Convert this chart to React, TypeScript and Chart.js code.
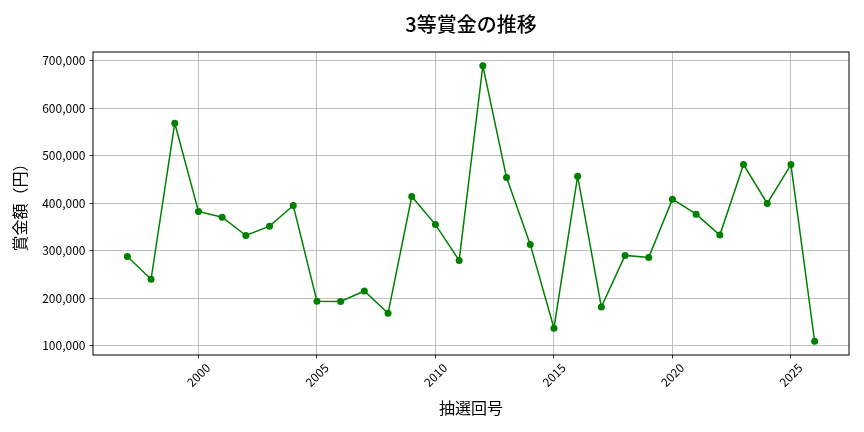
import React, { useEffect, useRef } from "react";
import { Chart, registerables } from "chart.js";

Chart.register(...registerables);

const years = [1997, 1998, 1999, 2000, 2001, 2002, 2003, 2004, 2005, 2006, 2007, 2008, 2009, 2010, 2011, 2012, 2013, 2014, 2015, 2016, 2017, 2018, 2019, 2020, 2021, 2022, 2023, 2024, 2025, 2026];
const prizes = [288000, 240000, 568000, 382500, 370600, 332000, 351700, 395000, 193900, 193500, 215400, 168500, 414000, 355000, 279700, 688800, 453800, 313300, 137100, 456600, 181800, 290200, 286000, 408400, 376900, 332900, 481100, 399300, 481100, 109800];
const xTicks = [2000, 2005, 2010, 2015, 2020, 2025];
const yTicks = [100000, 200000, 300000, 400000, 500000, 600000, 700000];

const FONT = "'Noto Sans CJK JP', 'Noto Sans', sans-serif";

export default function App() {
  const ref = useRef<HTMLCanvasElement | null>(null);

  useEffect(() => {
    if (!ref.current) return;
    const frame = {
      id: "frame",
      afterDraw(chart: any) {
        const { ctx, chartArea } = chart;
        ctx.save();
        ctx.strokeStyle = "#000";
        ctx.lineWidth = 1;
        ctx.strokeRect(chartArea.left, chartArea.top, chartArea.right - chartArea.left, chartArea.bottom - chartArea.top);
        const xs = chart.scales.x;
        ctx.fillStyle = "#000";
        ctx.font = `12px ${FONT}`;
        ctx.textAlign = "center";
        ctx.textBaseline = "middle";
        for (const t of xs.ticks) {
          const px = xs.getPixelForValue(t.value);
          ctx.save();
          ctx.translate(px, chartArea.bottom + 20);
          ctx.rotate(-Math.PI / 4);
          ctx.fillText(String(t.value), 0, 0);
          ctx.restore();
        }
        ctx.restore();
      },
    };
    const chart = new Chart(ref.current, {
      type: "line",
      data: {
        datasets: [
          {
            data: years.map((y, i) => ({ x: y, y: prizes[i] })),
            borderColor: "#008000",
            backgroundColor: "#008000",
            borderWidth: 1.5,
            pointRadius: 3.5,
            pointBorderWidth: 0,
            pointBackgroundColor: "#008000",
            tension: 0,
          },
        ],
      },
      options: {
        animation: false,
        responsive: false,
        devicePixelRatio: 1,
        layout: { padding: { left: 0, right: 15, top: 0, bottom: 0 } },
        plugins: {
          legend: { display: false },
          tooltip: { enabled: false },
          title: {
            display: true,
            fullSize: false,
            text: "3等賞金の推移",
            color: "#000",
            font: { family: FONT, size: 20, weight: "500" },
            padding: { top: 12, bottom: 16 },
          },
        },
        scales: {
          x: {
            type: "linear",
            min: 1995.55,
            max: 2027.45,
            afterBuildTicks: (s: any) => {
              s.ticks = xTicks.map((v) => ({ value: v }));
            },
            afterFit: (s: any) => {
              s.height = 77;
            },
            ticks: { display: false },
            grid: { color: "#b0b0b0", lineWidth: 0.8, tickColor: "#000", tickLength: 3.5, drawTicks: true },
            border: { display: false },
            title: {
              display: true,
              text: "抽選回号",
              color: "#000",
              font: { family: FONT, size: 16 },
              padding: { top: 0, bottom: 14.4 },
            },
          },
          y: {
            type: "linear",
            min: 80850,
            max: 717750,
            afterBuildTicks: (s: any) => {
              s.ticks = yTicks.map((v) => ({ value: v }));
            },
            afterFit: (s: any) => {
              s.width = 93;
            },
            ticks: {
              color: "#000",
              font: { family: FONT, size: 12 },
              padding: 4,
              callback: (v: any) => Number(v).toLocaleString("en-US"),
            },
            grid: { color: "#b0b0b0", lineWidth: 0.8, tickColor: "#000", tickLength: 3.5, drawTicks: true },
            border: { display: false },
            title: {
              display: true,
              text: "賞金額（円）",
              color: "#000",
              font: { family: FONT, size: 16 },
              padding: { top: 10.4, bottom: 0 },
            },
          },
        },
      },
      plugins: [frame],
    } as any);
    return () => chart.destroy();
  }, []);

  return (
    <div style={{ position: "fixed", left: 0, top: 0, width: 864, height: 432, background: "#fff" }}>
      <canvas ref={ref} width={864} height={432} style={{ width: 864, height: 432, display: "block" }} />
    </div>
  );
}
